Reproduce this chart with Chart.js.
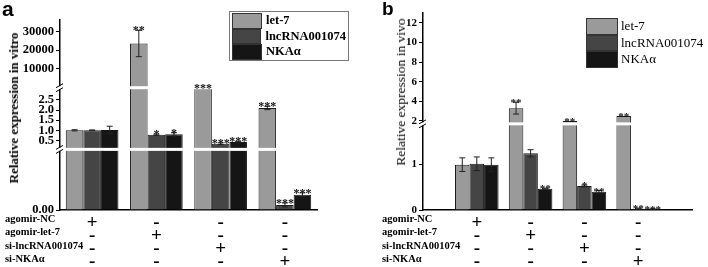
<!DOCTYPE html>
<html>
<head>
<meta charset="utf-8">
<script src="https://cdn.jsdelivr.net/npm/chart.js@4.4.0/dist/chart.umd.min.js"></script>
<style>
  body { margin: 0; width: 708px; height: 267px; position: relative; overflow: hidden; background: #fff; font-family: "Liberation Serif", serif; color: #000; }
  .panel { position: absolute; top: 0; height: 267px; }
  #wa { left: 0; width: 370px; }
  #wb { left: 370px; width: 338px; }
  .letter { position: absolute; font-family: "Liberation Sans", Arial, sans-serif; font-weight: bold; }
  .ytitle { position: absolute; white-space: nowrap; transform: translate(-50%, -50%) rotate(-90deg); }
  .rows { position: absolute; font-weight: bold; font-size: 10.5px; line-height: 13.3px; white-space: nowrap; }
  .legend { position: absolute; }
  .legend .item { display: flex; align-items: center; white-space: nowrap; }
  .legend .sw { box-sizing: border-box; border: 1px solid #333; }
</style>
</head>
<body>
<div class="panel" id="wa"><canvas id="chartA"></canvas></div>
<div class="panel" id="wb"><canvas id="chartB"></canvas></div>

<div class="letter" style="left:2px;top:-3px;font-size:21px;">a</div>
<div class="letter" style="left:382px;top:-2px;font-size:19px;">b</div>
<div class="ytitle" style="left:14px;top:108px;font-weight:bold;font-size:13px;">Relative expression in vitro</div>
<div class="ytitle" style="left:401px;top:92px;font-size:13.5px;">Relative expression in vivo</div>
<div class="rows" id="rowsA" style="left:5px;top:212px;"></div>
<div class="rows" id="rowsB" style="left:382px;top:212px;"></div>
<div class="legend" id="legA" style="left:229px;top:11px;width:120px;height:50px;border:1px solid #777;padding:1px 2px;box-sizing:border-box;font-weight:bold;font-size:12.5px;"></div>
<div class="legend" id="legB" style="left:586px;top:18px;font-size:13px;"></div>

<script>
// shared
const seriesNames = ['let-7', 'lncRNA001074', 'NKAα'];
const seriesColors = ['#9a9a9a', '#454545', '#151515'];
const conditionRows = ['agomir-NC', 'agomir-let-7', 'si-lncRNA001074', 'si-NKAα'];
const groupSigns = [['+', '-', '-', '-'], ['-', '+', '-', '-'], ['-', '-', '+', '-'], ['-', '-', '-', '+']];

// panel a - in vitro
const vitroLet7 = [1.0, 23500, 3.1, 2.1];
const vitroLnc = [1.0, 0.78, 0.34, 0.005];
const vitroNka = [1.02, 0.8, 0.42, 0.015];
const vitroLet7Err = [0.03, 7000, 0, 0.08];
const vitroLncErr = [0.02, 0.03, 0.04, 0.002];
const vitroNkaErr = [0.18, 0.08, 0.03, 0.002];
const vitroLet7Sig = ['', '**', '***', '***'];
const vitroLncSig = ['', '*', '***', '***'];
const vitroNkaSig = ['', '*', '***', '***'];
const vitroRanges = [[0, 0.06], [0.06, 3.1], [3.1, 36000]];
const vitroTicks = [[0], [0.5, 1.0, 1.5, 2.0, 2.5], [10000, 20000, 30000]];
const vitroDecimals = [2, 1, 0];

// panel b - in vivo
const vivoLet7 = [1.0, 3.3, 2.0, 2.5];
const vivoLnc = [1.02, 1.25, 0.53, 0.03];
const vivoNka = [1.0, 0.47, 0.4, 0.02];
const vivoLet7Err = [0.15, 0.6, 0, 0];
const vivoLncErr = [0.15, 0.08, 0.02, 0.01];
const vivoNkaErr = [0.15, 0.01, 0.03, 0.005];
const vivoLet7Sig = ['', '**', '**', '**'];
const vivoLncSig = ['', '', '*', '**'];
const vivoNkaSig = ['', '**', '**', '***'];
const vivoRanges = [[0, 1.9], [1.7, 13]];
const vivoTicks = [[0, 1], [2, 4, 6, 8, 10, 12]];
const vivoDecimals = [0, 0];

const serif = '"Liberation Serif", "Times New Roman", serif';

function makePanel(canvasId, p) {
  const nSeg = p.ranges.length;
  const lead = p.padEnds ? 1 : 0;
  const padArr = arr => p.padEnds ? [null, ...arr, null] : arr;
  const labels = p.padEnds ? ['', ...groupSigns, ''] : groupSigns;

  const datasets = [];
  p.values.forEach((vals, s) => {
    p.ranges.forEach((r, k) => {
      datasets.push({
        label: seriesNames[s],
        stack: 's' + s,
        yAxisID: 'y' + k,
        data: padArr(vals.map(v => v > r[0] ? [r[0], Math.min(v, r[1])] : null)),
        backgroundColor: seriesColors[s],
        borderColor: '#1a1a1a',
        borderWidth: 1,
        categoryPercentage: p.catPct,
        barPercentage: 1
      });
    });
  });

  const scales = {
    x: {
      type: 'category',
      labels: labels,
      offset: !p.padEnds,
      grid: { display: false },
      border: { color: '#000', width: 1.5 },
      ticks: {
        color: '#000', padding: -2, maxRotation: 0, autoSkip: false,
        font: { family: serif, weight: 'bold', size: 19, lineHeight: '13.3px' }
      },
      afterFit: sc => { sc.height = 57; }
    }
  };
  p.ranges.forEach((r, k) => {
    scales['y' + k] = {
      type: 'linear',
      position: 'left',
      stack: 'v',
      stackWeight: p.weights[k],
      stacked: false,
      min: r[0],
      max: r[1],
      afterBuildTicks: sc => { sc.ticks = p.ticks[k].map(v => ({ value: v })); },
      afterFit: sc => { sc.width = p.axisWidth; },
      grid: { drawOnChartArea: false, tickLength: 4, color: '#000' },
      border: { color: '#000', width: 1.5 },
      ticks: {
        color: '#000', padding: 2, autoSkip: false,
        font: { family: serif, weight: 'bold', size: p.tickSize },
        callback: v => Number(v).toFixed(p.decimals[k])
      }
    };
  });

  const extras = {
    id: 'extras',
    afterDatasetsDraw(chart) {
      const ctx = chart.ctx;
      const ca = chart.chartArea;
      const segScales = p.ranges.map((r, k) => chart.scales['y' + k]);
      ctx.save();
      // axis breaks
      for (let k = 0; k < nSeg - 1; k++) {
        const y = segScales[k].top;
        ctx.fillStyle = '#fff';
        ctx.fillRect(ca.left - 1, y - 1.5, ca.right - ca.left + 1, 3);
        ctx.strokeStyle = '#000';
        ctx.lineWidth = 1;
        [-2, 2].forEach(dy => {
          ctx.beginPath();
          ctx.moveTo(ca.left - 4, y + dy + 2);
          ctx.lineTo(ca.left + 3, y + dy - 2);
          ctx.stroke();
        });
      }
      // error bars + significance marks
      ctx.strokeStyle = '#222';
      ctx.lineWidth = 1;
      ctx.fillStyle = '#111';
      ctx.textAlign = 'center';
      ctx.textBaseline = 'alphabetic';
      ctx.font = 'bold ' + p.sigSize + 'px ' + serif;
      p.values.forEach((vals, s) => {
        vals.forEach((v, i) => {
          let k = nSeg - 1;
          while (k > 0 && !(v > p.ranges[k][0])) k--;
          const bar = chart.getDatasetMeta(s * nSeg + k).data[i + lead];
          if (!bar) return;
          const sc = segScales[k];
          const clamp = u => Math.max(sc.min, Math.min(sc.max, u));
          const e = p.errors[s][i];
          let topY = bar.y;
          if (e > 0) {
            const y1 = sc.getPixelForValue(clamp(v + e));
            const y0 = sc.getPixelForValue(clamp(v - e));
            ctx.beginPath();
            ctx.moveTo(bar.x, y0); ctx.lineTo(bar.x, y1);
            ctx.moveTo(bar.x - 3, y1); ctx.lineTo(bar.x + 3, y1);
            ctx.moveTo(bar.x - 3, y0); ctx.lineTo(bar.x + 3, y0);
            ctx.stroke();
            topY = Math.min(topY, y1);
          }
          const sig = p.sigs[s][i];
          if (sig) ctx.fillText(sig, bar.x, topY + 4);
        });
      });
      ctx.restore();
    }
  };

  return new Chart(document.getElementById(canvasId), {
    type: 'bar',
    data: { datasets },
    options: {
      responsive: true,
      maintainAspectRatio: false,
      animation: false,
      layout: { padding: p.padding },
      plugins: { legend: { display: false }, tooltip: { enabled: false } },
      scales
    },
    plugins: [extras]
  });
}

makePanel('chartA', {
  values: [vitroLet7, vitroLnc, vitroNka],
  errors: [vitroLet7Err, vitroLncErr, vitroNkaErr],
  sigs: [vitroLet7Sig, vitroLncSig, vitroNkaSig],
  ranges: vitroRanges, ticks: vitroTicks, decimals: vitroDecimals,
  weights: [60, 61, 67],
  padEnds: false, catPct: 0.82, axisWidth: 60, tickSize: 12.5, sigSize: 12,
  padding: { left: 0, top: 20, right: 53, bottom: 0 }
});

makePanel('chartB', {
  values: [vivoLet7, vivoLnc, vivoNka],
  errors: [vivoLet7Err, vivoLncErr, vivoNkaErr],
  sigs: [vivoLet7Sig, vivoLncSig, vivoNkaSig],
  ranges: vivoRanges, ticks: vivoTicks, decimals: vivoDecimals,
  weights: [85.5, 110],
  padEnds: true, catPct: 0.81, axisWidth: 53, tickSize: 11, sigSize: 11,
  padding: { left: 0, top: 13, right: 16, bottom: 0 }
});

// condition rows and legends
['rowsA', 'rowsB'].forEach(id => {
  document.getElementById(id).innerHTML = conditionRows.map(t => '<div>' + t + '</div>').join('');
});
function buildLegend(id, swW, swH, gap) {
  const el = document.getElementById(id);
  seriesNames.forEach((name, s) => {
    const item = document.createElement('div');
    item.className = 'item';
    item.style.height = swH + 'px';
    item.innerHTML = '<div class="sw" style="width:' + swW + 'px;height:' + swH + 'px;background:' +
      seriesColors[s] + ';margin-right:' + gap + 'px"></div><span>' + name + '</span>';
    el.appendChild(item);
  });
}
buildLegend('legA', 30, 15.5, 4);
buildLegend('legB', 32, 16.5, 3);
</script>
</body>
</html>
